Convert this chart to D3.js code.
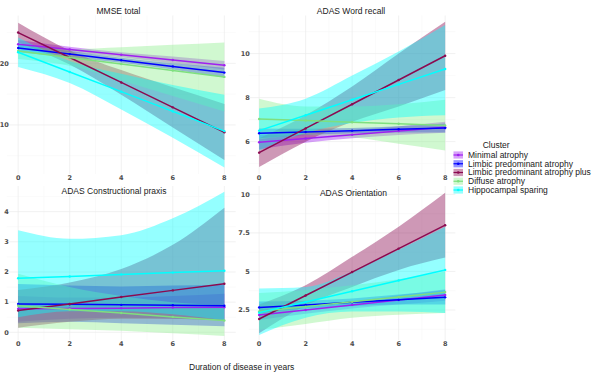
<!DOCTYPE html>
<html><head><meta charset="utf-8">
<script src="https://cdn.jsdelivr.net/npm/d3@7"></script>
<style>body{margin:0;background:#fff}svg{display:block}</style>
</head><body><svg id="c" width="594" height="373"></svg>
<script>
// ---------- data ----------
const clusters = ["Minimal atrophy","Limbic predominant atrophy","Limbic predominant atrophy plus","Diffuse atrophy","Hippocampal sparing"];
const years = [0,2,4,6,8];
const xTicks = [0,2,4,6,8];
const panelTitles = ["MMSE total","ADAS Word recall","ADAS Constructional praxis","ADAS Orientation"];
const xTitle = "Duration of disease in years";
const legendTitle = "Cluster";

const mmseFit = [
  [23.1,22.25,21.4,20.55,19.7],
  [22.5,21.5,20.5,19.5,18.5],
  [25.0,20.95,16.9,12.85,8.8],
  [22.0,20.95,19.9,18.85,17.8],
  [21.8,18.6,15.4,12.2,9.0]];
const mmseLower = [
  [22.4,21.8,21.0,20.0,19.0],
  [21.8,21.0,20.1,19.0,17.7],
  [23.4,19.8,14.9,9.6,4.3],
  [20.7,19.6,17.2,14.7,12.2],
  [19.4,16.8,12.5,7.9,3.1]];
const mmseUpper = [
  [23.8,22.7,21.8,21.1,20.4],
  [23.2,22.0,20.9,20.0,19.3],
  [26.6,22.1,18.9,16.1,13.4],
  [23.3,22.3,22.6,23.0,23.4],
  [24.2,20.4,18.3,16.5,14.9]];

const wordFit = [
  [5.97,6.14,6.31,6.48,6.65],
  [6.38,6.44,6.50,6.56,6.62],
  [5.5,6.6,7.7,8.8,9.9],
  [7.03,6.96,6.88,6.81,6.73],
  [6.5,7.2,7.9,8.6,9.3]];
const wordLower = [
  [5.65,5.95,6.15,6.3,6.4],
  [6.15,6.3,6.38,6.42,6.42],
  [4.85,6.0,6.9,7.6,8.35],
  [6.1,6.3,6.2,5.9,5.6],
  [5.6,6.4,6.85,7.1,7.2]];
const wordUpper = [
  [6.3,6.35,6.5,6.7,6.9],
  [6.6,6.58,6.62,6.7,6.82],
  [6.15,7.2,8.5,10.0,11.45],
  [7.95,7.6,7.6,7.7,7.9],
  [7.5,7.95,9.0,10.1,11.3]];

const constrFit = [
  [0.78,0.79,0.80,0.82,0.83],
  [0.94,0.93,0.91,0.90,0.88],
  [0.72,0.94,1.17,1.39,1.61],
  [0.88,0.76,0.64,0.51,0.39],
  [1.79,1.85,1.92,1.98,2.04]];
const constrLower = [
  [0.35,0.45,0.48,0.45,0.4],
  [0.3,0.35,0.3,0.25,0.2],
  [0.15,0.35,0.45,0.45,0.4],
  [0.15,0.1,0.05,-0.03,-0.12],
  [0.5,0.7,0.7,0.6,0.4]];
const constrUpper = [
  [1.2,1.15,1.15,1.2,1.28],
  [1.6,1.55,1.52,1.55,1.58],
  [1.4,1.65,2.1,2.9,4.13],
  [1.94,1.5,1.2,1.0,0.9],
  [3.38,3.1,3.22,3.78,4.66]];

const orientFit = [
  [2.18,2.5,2.83,3.15,3.47],
  [2.67,2.83,3.0,3.16,3.32],
  [1.92,3.44,4.96,6.48,8.0],
  [2.4,2.72,3.03,3.35,3.66],
  [2.33,3.02,3.72,4.41,5.1]];
const orientLower = [
  [1.85,2.25,2.6,2.85,3.1],
  [2.3,2.6,2.75,2.85,2.85],
  [1.0,2.8,4.0,5.1,5.9],
  [1.2,1.6,2.0,2.2,2.3],
  [0.88,2.0,2.4,2.4,2.3]];
const orientUpper = [
  [2.5,2.75,3.05,3.45,3.85],
  [3.05,3.1,3.25,3.5,3.8],
  [2.85,4.1,5.95,7.9,10.1],
  [3.6,3.8,4.1,4.5,5.0],
  [3.9,4.0,5.0,6.4,7.9]];

const mmseTicks = [10,20];
const wordTicks = [6,8,10];
const constrTicks = [0,1,2,3,4];
const orientTicks = [2.5,5,7.5,10];

// ---------- style ----------
const lineColors = ["#A020F0","#0000FF","#8B0A50","#7EE07E","#00FFFF"];
const fillColors = ["#A020F0","#0000FF","#8B0A50","#90EE90","#00FFFF"];
const fillOpacity = 0.42;
const textFont = "'Liberation Sans', Arial, sans-serif";
const tickFont = "'DejaVu Sans', Verdana, sans-serif";

const panels = [
  {title:panelTitles[0], fit:mmseFit, lo:mmseLower, hi:mmseUpper, ticks:mmseTicks, yDom:[2.03,27.77], x0:6.8, x1:235.7, y0:15.5, y1:174, tx:118.5, ty:11},
  {title:panelTitles[1], fit:wordFit, lo:wordLower, hi:wordUpper, ticks:wordTicks, yDom:[4.53,11.73], x0:248.9, x1:455.4, y0:15.5, y1:174, tx:351, ty:11},
  {title:panelTitles[2], fit:constrFit, lo:constrLower, hi:constrUpper, ticks:constrTicks, yDom:[-0.255,4.85], x0:6.8, x1:235.7, y0:186, y1:340, tx:114, ty:190.7},
  {title:panelTitles[3], fit:orientFit, lo:orientLower, hi:orientUpper, ticks:orientTicks, yDom:[0.556,10.54], x0:248.9, x1:455.4, y0:186, y1:340, tx:353.5, ty:192.7}
];

const svg = d3.select("#c");
const defs = svg.append("defs");

panels.forEach((p, pi) => {
  const x = d3.scaleLinear().domain([-0.44, 8.44]).range([p.x0, p.x1]);
  const y = d3.scaleLinear().domain(p.yDom).range([p.y1, p.y0]);
  const g = svg.append("g");

  // grid: minor
  const xMinor = [1,3,5,7];
  const step = p.ticks.length > 1 ? p.ticks[1]-p.ticks[0] : 10;
  const yMinor = [];
  for (let v = p.ticks[0] - step/2; v <= p.yDom[1]; v += step) if (v >= p.yDom[0]) yMinor.push(v);
  g.selectAll(".gxm").data(xMinor).join("line")
    .attr("x1", d=>x(d)).attr("x2", d=>x(d)).attr("y1", p.y0).attr("y2", p.y1)
    .attr("stroke", "#f6f6f6").attr("stroke-width", 0.6);
  g.selectAll(".gym").data(yMinor).join("line")
    .attr("x1", p.x0).attr("x2", p.x1).attr("y1", d=>y(d)).attr("y2", d=>y(d))
    .attr("stroke", "#f6f6f6").attr("stroke-width", 0.6);
  g.selectAll(".gx").data(xTicks).join("line")
    .attr("x1", d=>x(d)).attr("x2", d=>x(d)).attr("y1", p.y0).attr("y2", p.y1)
    .attr("stroke", "#ebebeb").attr("stroke-width", 0.7);
  g.selectAll(".gy").data(p.ticks).join("line")
    .attr("x1", p.x0).attr("x2", p.x1).attr("y1", d=>y(d)).attr("y2", d=>y(d))
    .attr("stroke", "#ebebeb").attr("stroke-width", 0.7);

  // clip
  const cid = "clip" + pi;
  defs.append("clipPath").attr("id", cid).append("rect")
    .attr("x", p.x0).attr("y", p.y0).attr("width", p.x1-p.x0).attr("height", p.y1-p.y0);
  const plot = g.append("g").attr("clip-path", `url(#${cid})`);

  const area = d3.area().curve(d3.curveMonotoneX)
    .x((d,i)=>x(years[i])).y0(d=>y(d[0])).y1(d=>y(d[1]));
  clusters.forEach((c, ci) => {
    const band = years.map((_, i) => [p.lo[ci][i], p.hi[ci][i]]);
    plot.append("path").attr("d", area(band))
      .attr("fill", fillColors[ci]).attr("fill-opacity", fillOpacity).attr("stroke", "none");
  });
  const line = d3.line().x((d,i)=>x(years[i])).y(d=>y(d));
  clusters.forEach((c, ci) => {
    plot.append("path").attr("d", line(p.fit[ci]))
      .attr("fill", "none").attr("stroke", lineColors[ci]).attr("stroke-width", 1.5);
    plot.selectAll(null).data(p.fit[ci]).join("circle")
      .attr("cx", (d,i)=>x(years[i])).attr("cy", d=>y(d)).attr("r", 1.2)
      .attr("fill", lineColors[ci]);
  });

  // tick labels
  g.selectAll(".xl").data(xTicks).join("text")
    .attr("x", d=>x(d)).attr("y", p.y1 + 4).attr("dy", "0.35em")
    .attr("text-anchor", "middle").attr("font-family", tickFont).attr("font-weight", "bold")
    .attr("font-size", 6.5).attr("fill", "#4d4d4d").text(d=>d);
  g.selectAll(".yl").data(p.ticks).join("text")
    .attr("x", x(0) - 9.3).attr("y", d=>y(d)).attr("dy", "0.35em")
    .attr("text-anchor", "end").attr("font-family", tickFont).attr("font-weight", "bold")
    .attr("font-size", 6.5).attr("fill", "#4d4d4d").text(d=>d);

  // title
  g.append("text").attr("x", p.tx).attr("y", p.ty).attr("dy", "0.35em")
    .attr("text-anchor", "middle").attr("font-family", textFont).attr("font-size", 8.5)
    .attr("fill", "#1a1a1a").text(p.title);
});

// x axis title
svg.append("text").attr("x", 241.7).attr("y", 366.7).attr("dy", "0.35em")
  .attr("text-anchor", "middle").attr("font-family", textFont).attr("font-size", 8.5)
  .attr("fill", "#1a1a1a").text(xTitle);

// legend
const lg = svg.append("g");
lg.append("text").attr("x", 482.7).attr("y", 145).attr("dy", "0.35em")
  .attr("font-family", textFont).attr("font-size", 8.5).attr("fill", "#1a1a1a").text(legendTitle);
clusters.forEach((c, ci) => {
  const cy = 155 + ci * 8.75;
  lg.append("rect").attr("x", 453.5).attr("y", cy - 3.6).attr("width", 9.5).attr("height", 7.2)
    .attr("fill", fillColors[ci]).attr("fill-opacity", fillOpacity);
  lg.append("line").attr("x1", 453.5).attr("x2", 463).attr("y1", cy).attr("y2", cy)
    .attr("stroke", lineColors[ci]).attr("stroke-width", 1.2);
  lg.append("circle").attr("cx", 458.25).attr("cy", cy).attr("r", 1.3).attr("fill", lineColors[ci]);
  lg.append("text").attr("x", 468).attr("y", cy).attr("dy", "0.35em")
    .attr("font-family", textFont).attr("font-size", 8.5).attr("fill", "#1a1a1a").text(c);
});
</script>
</body></html>
